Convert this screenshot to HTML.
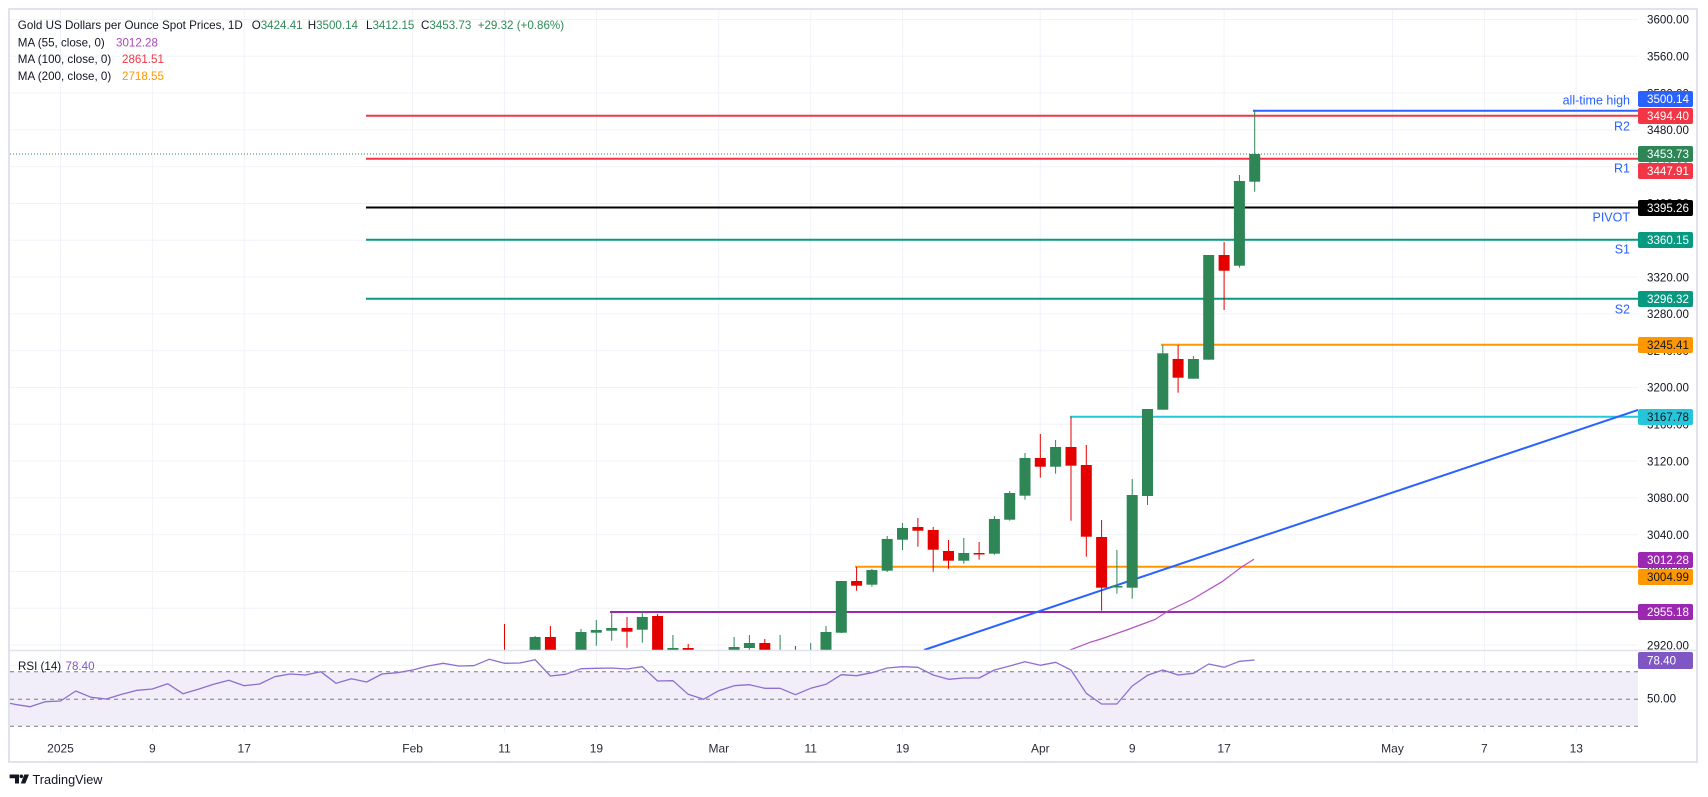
<!DOCTYPE html>
<html><head><meta charset="utf-8"><style>
html,body{margin:0;padding:0;background:#fff;}
svg{display:block;}
text{font-family:"Liberation Sans",Arial,sans-serif;}
</style></head><body>
<svg width="1708" height="797" viewBox="0 0 1708 797" xmlns="http://www.w3.org/2000/svg">
<defs>
<clipPath id="mainclip"><rect x="10" y="10" width="1628" height="640"/></clipPath>
<clipPath id="rsiclip"><rect x="10" y="651" width="1628" height="82"/></clipPath>
</defs>
<rect x="0" y="0" width="1708" height="797" fill="#fff"/>

<!-- vertical gridlines -->
<g stroke="#f0f3fa" stroke-width="1">
<line x1="60.5" y1="10" x2="60.5" y2="733"/>
<line x1="152.4" y1="10" x2="152.4" y2="733"/>
<line x1="244.2" y1="10" x2="244.2" y2="733"/>
<line x1="412.6" y1="10" x2="412.6" y2="733"/>
<line x1="504.5" y1="10" x2="504.5" y2="733"/>
<line x1="596.4" y1="10" x2="596.4" y2="733"/>
<line x1="718.8" y1="10" x2="718.8" y2="733"/>
<line x1="810.7" y1="10" x2="810.7" y2="733"/>
<line x1="902.6" y1="10" x2="902.6" y2="733"/>
<line x1="1040.3" y1="10" x2="1040.3" y2="733"/>
<line x1="1132.2" y1="10" x2="1132.2" y2="733"/>
<line x1="1224.1" y1="10" x2="1224.1" y2="733"/>
<line x1="1392.5" y1="10" x2="1392.5" y2="733"/>
<line x1="1484.4" y1="10" x2="1484.4" y2="733"/>
<line x1="1576.3" y1="10" x2="1576.3" y2="733"/>
</g>
<!-- horizontal gridlines -->
<g stroke="#f0f3fa" stroke-width="1">
<line x1="10" y1="19.5" x2="1638" y2="19.5"/>
<line x1="10" y1="56.3" x2="1638" y2="56.3"/>
<line x1="10" y1="93.1" x2="1638" y2="93.1"/>
<line x1="10" y1="129.9" x2="1638" y2="129.9"/>
<line x1="10" y1="166.7" x2="1638" y2="166.7"/>
<line x1="10" y1="203.5" x2="1638" y2="203.5"/>
<line x1="10" y1="240.3" x2="1638" y2="240.3"/>
<line x1="10" y1="277.1" x2="1638" y2="277.1"/>
<line x1="10" y1="313.9" x2="1638" y2="313.9"/>
<line x1="10" y1="350.7" x2="1638" y2="350.7"/>
<line x1="10" y1="387.5" x2="1638" y2="387.5"/>
<line x1="10" y1="424.3" x2="1638" y2="424.3"/>
<line x1="10" y1="461.1" x2="1638" y2="461.1"/>
<line x1="10" y1="497.9" x2="1638" y2="497.9"/>
<line x1="10" y1="534.7" x2="1638" y2="534.7"/>
<line x1="10" y1="571.5" x2="1638" y2="571.5"/>
<line x1="10" y1="608.3" x2="1638" y2="608.3"/>
<line x1="10" y1="645.1" x2="1638" y2="645.1"/>
<line x1="10" y1="665.2" x2="1638" y2="665.2"/>
</g>

<!-- RSI band -->
<rect x="10" y="671.7" width="1628" height="54.6" fill="#f1eef9"/>
<g stroke="#787b86" stroke-width="1" stroke-dasharray="4,4">
<line x1="10" y1="671.7" x2="1638" y2="671.7"/>
<line x1="10" y1="699.3" x2="1638" y2="699.3"/>
<line x1="10" y1="726.3" x2="1638" y2="726.3"/>
</g>
<g clip-path="url(#rsiclip)">
<polyline fill="none" stroke="#8e6fd0" stroke-width="1.3" stroke-linejoin="round" points="9.6,703.3 14.57,704.3 29.88,706.7 45.19,701.7 60.5,701 75.81,691 91.12,697.3 106.43,699 121.74,694.3 137.05,690.3 152.36,689 167.67,683.7 182.98,693.7 198.29,689.3 213.6,684.3 228.91,680.3 244.22,685.7 259.53,684 274.84,676.7 290.15,674 305.46,675 320.77,671.7 336.08,683.3 351.39,678.7 366.7,682 382.01,674 397.32,672.7 412.63,670 427.94,666 443.25,663.3 458.56,666 473.87,665.7 489.18,659.3 504.49,663.3 519.8,663 535.11,659.7 550.42,676 565.73,674.3 581.04,668.7 596.35,668.3 611.66,668 626.97,669 642.28,666.7 657.59,681 672.9,680.7 688.21,694.3 703.52,699.3 718.83,690.7 734.14,685.7 749.45,684.7 764.76,688.3 780.07,688.3 795.38,694.7 810.69,688.3 826,684.3 841.31,674.7 856.62,675.7 871.93,672.7 887.24,668 902.55,666.7 917.86,667.3 933.17,675 948.48,679.3 963.79,678 979.1,678 994.41,670 1009.72,666 1025.03,661.7 1040.34,665.3 1055.65,662.3 1070.96,670 1086.27,693.3 1101.58,704 1116.89,704 1132.2,686 1147.51,675.3 1162.82,670 1178.13,675 1193.44,673.3 1208.75,664 1224.06,667.3 1239.37,661.3 1254.68,660"/>
</g>

<g clip-path="url(#mainclip)">
<!-- dotted last price line -->
<line x1="10" y1="154" x2="1638" y2="154" stroke="#2e8555" stroke-width="1" stroke-dasharray="1,2"/>
<!-- level lines -->
<line x1="366" y1="115.7" x2="1638" y2="115.7" stroke="#f23645" stroke-width="2"/>
<line x1="366" y1="158.7" x2="1638" y2="158.7" stroke="#f23645" stroke-width="2"/>
<line x1="366" y1="207.5" x2="1638" y2="207.5" stroke="#000" stroke-width="2"/>
<line x1="366" y1="239.7" x2="1638" y2="239.7" stroke="#089981" stroke-width="2"/>
<line x1="366" y1="298.7" x2="1638" y2="298.7" stroke="#089981" stroke-width="2"/>
<line x1="1253" y1="110.7" x2="1638" y2="110.7" stroke="#2962ff" stroke-width="2"/>
<line x1="1161" y1="344.7" x2="1638" y2="344.7" stroke="#ff9800" stroke-width="2"/>
<line x1="1070" y1="416.7" x2="1638" y2="416.7" stroke="#26c6da" stroke-width="2"/>
<line x1="855" y1="566.7" x2="1638" y2="566.7" stroke="#ff9800" stroke-width="2"/>
<line x1="610" y1="612" x2="1638" y2="612" stroke="#9c27b0" stroke-width="2"/>
<!-- trendline -->
<line x1="924" y1="650" x2="1638" y2="410" stroke="#2962ff" stroke-width="2"/>
<!-- MA55 -->
<polyline fill="none" stroke="#b54fc6" stroke-width="1.2" points="1070,650 1090,642.3 1101,639 1128,629.5 1155,619.5 1168,611 1192,599.5 1222,581.7 1242,566.7 1254,559.3"/>

<!-- candles -->
<g fill="#e50000">
<rect x="504" y="624" width="1" height="76"/><rect x="499" y="655" width="11" height="45"/>
<rect x="549.9" y="626" width="1" height="74"/><rect x="544.9" y="637" width="11" height="63"/>
<rect x="626.5" y="617" width="1" height="30.7"/><rect x="621.5" y="628" width="11" height="3.7"/>
<rect x="657.1" y="614" width="1" height="86"/><rect x="652.1" y="616" width="11" height="84"/>
<rect x="687.7" y="644" width="1" height="56"/><rect x="682.7" y="648" width="11" height="52"/>
<rect x="764.3" y="639" width="1" height="61"/><rect x="759.3" y="643" width="11" height="57"/>
<rect x="794.9" y="646" width="1" height="54"/><rect x="789.9" y="655" width="11" height="45"/>
<rect x="856.1" y="567" width="1" height="23.7"/><rect x="851.1" y="581" width="11" height="4.7"/>
<rect x="917.4" y="518" width="1" height="28.7"/><rect x="912.4" y="527" width="11" height="3.7"/>
<rect x="932.7" y="527" width="1" height="44.7"/><rect x="927.7" y="530" width="11" height="19.7"/>
<rect x="948" y="540" width="1" height="28.7"/><rect x="943" y="551" width="11" height="9.7"/>
<rect x="978.6" y="542" width="1" height="17.7"/><rect x="973.6" y="553" width="11" height="1.5"/>
<rect x="1039.8" y="434" width="1" height="43.7"/><rect x="1034.8" y="458" width="11" height="8.7"/>
<rect x="1070.5" y="416.7" width="1" height="104"/><rect x="1065.5" y="447" width="11" height="18.7"/>
<rect x="1085.8" y="445" width="1" height="111.7"/><rect x="1080.8" y="465" width="11" height="71.7"/>
<rect x="1101.1" y="520" width="1" height="90.7"/><rect x="1096.1" y="537" width="11" height="50.7"/>
<rect x="1177.6" y="345" width="1" height="47.7"/><rect x="1172.6" y="359" width="11" height="18.7"/>
<rect x="1223.6" y="242" width="1" height="68"/><rect x="1218.6" y="255" width="11" height="15.7"/>
</g>
<g fill="#2e8555">
<rect x="534.6" y="636" width="1" height="64"/><rect x="529.6" y="637" width="11" height="63"/>
<rect x="580.5" y="629" width="1" height="71"/><rect x="575.5" y="632" width="11" height="68"/>
<rect x="595.8" y="620" width="1" height="25.7"/><rect x="590.8" y="630" width="11" height="2.7"/>
<rect x="611.2" y="612" width="1" height="28.7"/><rect x="606.2" y="628" width="11" height="2.7"/>
<rect x="641.8" y="611" width="1" height="31.7"/><rect x="636.8" y="617" width="11" height="12.7"/>
<rect x="672.4" y="635" width="1" height="65"/><rect x="667.4" y="648" width="11" height="52"/>
<rect x="733.6" y="637" width="1" height="63"/><rect x="728.6" y="647" width="11" height="53"/>
<rect x="748.9" y="635" width="1" height="15"/><rect x="743.9" y="643" width="11" height="5"/>
<rect x="779.6" y="635" width="1" height="65"/><rect x="774.6" y="655" width="11" height="45"/>
<rect x="810.2" y="643" width="1" height="57"/><rect x="805.2" y="655" width="11" height="45"/>
<rect x="825.5" y="626" width="1" height="74"/><rect x="820.5" y="632" width="11" height="68"/>
<rect x="840.8" y="581" width="1" height="52"/><rect x="835.8" y="581" width="11" height="51.7"/>
<rect x="871.4" y="569" width="1" height="17.7"/><rect x="866.4" y="570" width="11" height="14.7"/>
<rect x="886.7" y="536" width="1" height="36"/><rect x="881.7" y="539" width="11" height="31.7"/>
<rect x="902" y="523" width="1" height="27"/><rect x="897" y="528" width="11" height="11.7"/>
<rect x="963.3" y="538" width="1" height="25.7"/><rect x="958.3" y="553" width="11" height="7.7"/>
<rect x="993.9" y="516" width="1" height="38.7"/><rect x="988.9" y="519" width="11" height="34.7"/>
<rect x="1009.2" y="491" width="1" height="29.7"/><rect x="1004.2" y="493" width="11" height="26.7"/>
<rect x="1024.5" y="453" width="1" height="46.7"/><rect x="1019.5" y="458" width="11" height="37.7"/>
<rect x="1055.1" y="440" width="1" height="33.7"/><rect x="1050.1" y="447" width="11" height="19.7"/>
<rect x="1116.4" y="550" width="1" height="43.7"/><rect x="1111.4" y="586" width="11" height="1.5"/>
<rect x="1131.7" y="479" width="1" height="119.7"/><rect x="1126.7" y="495" width="11" height="92.7"/>
<rect x="1147" y="409" width="1" height="96"/><rect x="1142" y="409" width="11" height="87"/>
<rect x="1162.3" y="345" width="1" height="64.7"/><rect x="1157.3" y="353.3" width="11" height="56.4"/>
<rect x="1192.9" y="356" width="1" height="22.7"/><rect x="1187.9" y="359" width="11" height="19.7"/>
<rect x="1208.2" y="255" width="1" height="104.7"/><rect x="1203.2" y="255" width="11" height="104.7"/>
<rect x="1238.9" y="175" width="1" height="92.7"/><rect x="1233.9" y="181" width="11" height="84.7"/>
<rect x="1254.2" y="110.7" width="1" height="81"/><rect x="1249.2" y="154" width="11" height="27.7"/>
</g>
</g>

<!-- pane separator and frame -->
<line x1="10" y1="650.5" x2="1697" y2="650.5" stroke="#e0e3eb" stroke-width="1.5"/>
<rect x="9" y="9" width="1688" height="753" fill="none" stroke="#e0e3eb" stroke-width="2"/>

<!-- level text labels -->
<g fill="#2962ff" font-size="12.5" text-anchor="end">
<text x="1630" y="104.5">all-time high</text>
<text x="1630" y="130.5">R2</text>
<text x="1630" y="172.5">R1</text>
<text x="1630" y="221.5">PIVOT</text>
<text x="1630" y="253.5">S1</text>
<text x="1630" y="313.5">S2</text>
</g>

<!-- price axis tick labels -->
<g fill="#131722" font-size="11.6">
<text x="1647" y="23.7">3600.00</text>
<text x="1647" y="60.5">3560.00</text>
<text x="1647" y="97.3">3520.00</text>
<text x="1647" y="134.1">3480.00</text>
<text x="1647" y="170.9">3440.00</text>
<text x="1647" y="207.7">3400.00</text>
<text x="1647" y="244.5">3360.00</text>
<text x="1647" y="281.3">3320.00</text>
<text x="1647" y="318.1">3280.00</text>
<text x="1647" y="354.9">3240.00</text>
<text x="1647" y="391.7">3200.00</text>
<text x="1647" y="428.5">3160.00</text>
<text x="1647" y="465.3">3120.00</text>
<text x="1647" y="502.1">3080.00</text>
<text x="1647" y="538.9">3040.00</text>
<text x="1647" y="575.7">3000.00</text>
<text x="1647" y="612.5">2960.00</text>
<text x="1647" y="649.3">2920.00</text>
<text x="1647" y="702.5">50.00</text>
</g>

<!-- price axis boxes -->
<g>
<rect x="1638" y="91" width="55" height="16" rx="2" fill="#2962ff"/>
<rect x="1638" y="108" width="55" height="16" rx="2" fill="#f23645"/>
<rect x="1638" y="146" width="55" height="16" rx="2" fill="#2e8555"/>
<rect x="1638" y="163" width="55" height="16" rx="2" fill="#f23645"/>
<rect x="1638" y="200" width="55" height="16" rx="2" fill="#000"/>
<rect x="1638" y="232" width="55" height="16" rx="2" fill="#089981"/>
<rect x="1638" y="291" width="55" height="16" rx="2" fill="#089981"/>
<rect x="1638" y="337" width="55" height="16" rx="2" fill="#ff9800"/>
<rect x="1638" y="409" width="55" height="16" rx="2" fill="#26c6da"/>
<rect x="1638" y="552" width="55" height="16" rx="2" fill="#9c27b0"/>
<rect x="1638" y="569" width="55" height="16" rx="2" fill="#ff9800"/>
<rect x="1638" y="604" width="55" height="16" rx="2" fill="#9c27b0"/>
<rect x="1638" y="652" width="55" height="17" rx="2" fill="#7e57c2"/>
</g>
<g font-size="11.6" fill="#fff">
<text x="1647" y="103.2">3500.14</text>
<text x="1647" y="120.2">3494.40</text>
<text x="1647" y="158.2">3453.73</text>
<text x="1647" y="175.2">3447.91</text>
<text x="1647" y="212.2">3395.26</text>
<text x="1647" y="244.2">3360.15</text>
<text x="1647" y="303.2">3296.32</text>
<text x="1647" y="349.2" fill="#131722">3245.41</text>
<text x="1647" y="421.2" fill="#131722">3167.78</text>
<text x="1647" y="564.2">3012.28</text>
<text x="1647" y="581.2" fill="#131722">3004.99</text>
<text x="1647" y="616.2">2955.18</text>
<text x="1647" y="664.7">78.40</text>
</g>

<!-- header legend -->
<g font-size="11.6" fill="#131722">
<text x="17.8" y="29.2" textLength="225" lengthAdjust="spacingAndGlyphs">Gold US Dollars per Ounce Spot Prices, 1D</text>
<text x="251.7" y="29.2">O<tspan fill="#2e8b57">3424.41</tspan></text>
<text x="307.7" y="29.2">H<tspan fill="#2e8b57">3500.14</tspan></text>
<text x="366" y="29.2">L<tspan fill="#2e8b57">3412.15</tspan></text>
<text x="421" y="29.2">C<tspan fill="#2e8b57">3453.73</tspan></text>
<text x="477.7" y="29.2" fill="#2e8b57">+29.32 (+0.86%)</text>
<text x="17.8" y="46.5">MA (55, close, 0)</text>
<text x="116" y="46.5" fill="#ab47bc">3012.28</text>
<text x="17.8" y="63.2">MA (100, close, 0)</text>
<text x="122" y="63.2" fill="#f23645">2861.51</text>
<text x="17.8" y="79.9">MA (200, close, 0)</text>
<text x="122" y="79.9" fill="#ff9800">2718.55</text>
<text x="18" y="670.2">RSI (14)</text>
<text x="65.5" y="670.2" fill="#7e57c2">78.40</text>
</g>

<!-- time axis labels -->
<g font-size="12" fill="#2a2e39" text-anchor="middle">
<text x="60.5" y="752.5">2025</text>
<text x="152.4" y="752.5">9</text>
<text x="244.2" y="752.5">17</text>
<text x="412.6" y="752.5">Feb</text>
<text x="504.5" y="752.5">11</text>
<text x="596.4" y="752.5">19</text>
<text x="718.8" y="752.5">Mar</text>
<text x="810.7" y="752.5">11</text>
<text x="902.6" y="752.5">19</text>
<text x="1040.3" y="752.5">Apr</text>
<text x="1132.2" y="752.5">9</text>
<text x="1224.1" y="752.5">17</text>
<text x="1392.5" y="752.5">May</text>
<text x="1484.4" y="752.5">7</text>
<text x="1576.3" y="752.5">13</text>
</g>

<!-- TradingView logo -->
<g fill="#131722">
<path d="M9.6 774.5 H19 V783.5 H15 V778.2 H9.6 Z"/>
<circle cx="21.3" cy="776.3" r="1.8"/>
<path d="M24.3 774.5 H29 L25.3 783.5 H20.8 Z"/>
</g>
<text x="32.5" y="784" font-size="13" fill="#131722" textLength="70" lengthAdjust="spacingAndGlyphs">TradingView</text>
</svg>
</body></html>
